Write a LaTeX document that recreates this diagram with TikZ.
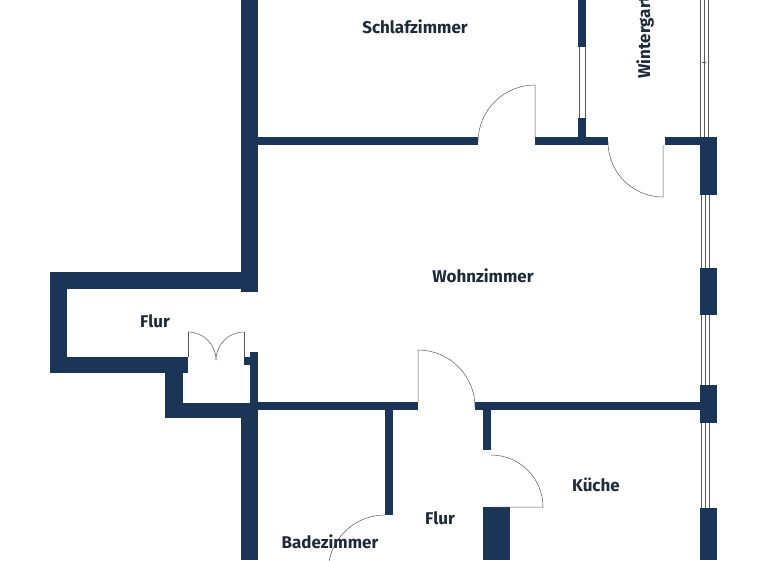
\documentclass[tikz,border=0pt]{standalone}
\usepackage{fontspec}
\setmainfont{Fira Sans}
\begin{document}
\begin{tikzpicture}[x=1pt,y=-1pt,
  wall/.style={fill=wallc,draw=none},
  thin/.style={draw=gray!70!black,line width=0.5pt},
  lbl/.style={text=textc,font=\fontsize{17}{19}\selectfont\bfseries}]
\definecolor{wallc}{HTML}{1B3557}
\definecolor{textc}{HTML}{1E2A38}
\clip (0,0) rectangle (768,560);
\useasboundingbox (0,0) rectangle (768,560);
\fill[white] (0,0) rectangle (768,560);
% main left wall
\fill[wall] (241,0) rectangle (258,292);
% Schlafzimmer bottom wall
\fill[wall] (258,137) rectangle (478,145);
\fill[wall] (535,137) rectangle (608,145);
\fill[wall] (665,137) rectangle (703,145);
% Schlaf / Wintergarten wall
\fill[wall] (578,0) rectangle (586,47);
\fill[wall] (578,118) rectangle (586,140);
\draw[thin] (579,47) -- (579,118) (585,47) -- (585,118);
% Wintergarten outer
\draw[thin] (700,0) -- (700,137) (704,0) -- (704,137) (708,0) -- (708,137);
\draw[thin] (702,62) -- (706,62);
% right wall
\fill[wall] (700,137) rectangle (717,195);
\fill[wall] (700,268) rectangle (717,315);
\fill[wall] (700,385) rectangle (717,423);
\fill[wall] (700,508) rectangle (717,560);
\foreach \a/\b in {195/268,315/385,423/508}{
  \draw[thin] (701,\a) -- (701,\b) (705,\a) -- (705,\b) (709,\a) -- (709,\b);}
% left Flur box
\fill[wall] (50,272) rectangle (258,289);
\fill[wall] (50,272) rectangle (67,373);
\fill[wall] (50,357) rectangle (188,373);
\fill[wall] (165,357) rectangle (183,418);
\fill[wall] (165,403) rectangle (258,418);
\fill[wall] (250,352) rectangle (258,403);
\fill[wall] (244,357) rectangle (250,365);
\fill[wall] (241,403) rectangle (258,560);
% double door
\draw[thin] (188,357) -- (188,332) (244,357) -- (244,332);
\draw[thin] (188,332) arc[start angle=270,end angle=360,radius=28];
\draw[thin] (244,332) arc[start angle=270,end angle=180,radius=28];
% Wohnzimmer bottom wall
\fill[wall] (258,402) rectangle (418,410);
\fill[wall] (475,402) rectangle (703,410);
\fill[wall] (385,410) rectangle (393,515);
\fill[wall] (483,410) rectangle (491,450);
\fill[wall] (483,507) rectangle (510,560);
% doors
\draw[thin] (535,137) -- (535,85) arc[start angle=270,end angle=180,radius=57];
\draw[thin] (663,145) -- (663,197) arc[start angle=90,end angle=180,radius=55];
\draw[thin] (418,402) -- (418,350) arc[start angle=270,end angle=360,radius=57];
\draw[thin] (491,507) -- (543,507) arc[start angle=0,end angle=-90,radius=52];
\draw[thin] (385,515) arc[start angle=270,end angle=190,radius=57];
% labels
\node[lbl] (schlaf) at (415,27) {Schlafzimmer};
\node[lbl,rotate=90,anchor=west] (winter) at (645,82) {Wintergarten};
\node[lbl] (wohn) at (483,276) {Wohnzimmer};
\node[lbl] (flur1) at (155,321) {Flur};
\node[lbl] (flur2) at (440,518) {Flur};
\node[lbl] (kueche) at (596,485) {Küche};
\node[lbl] (bad) at (330,542) {Badezimmer};
\end{tikzpicture}
\end{document}
